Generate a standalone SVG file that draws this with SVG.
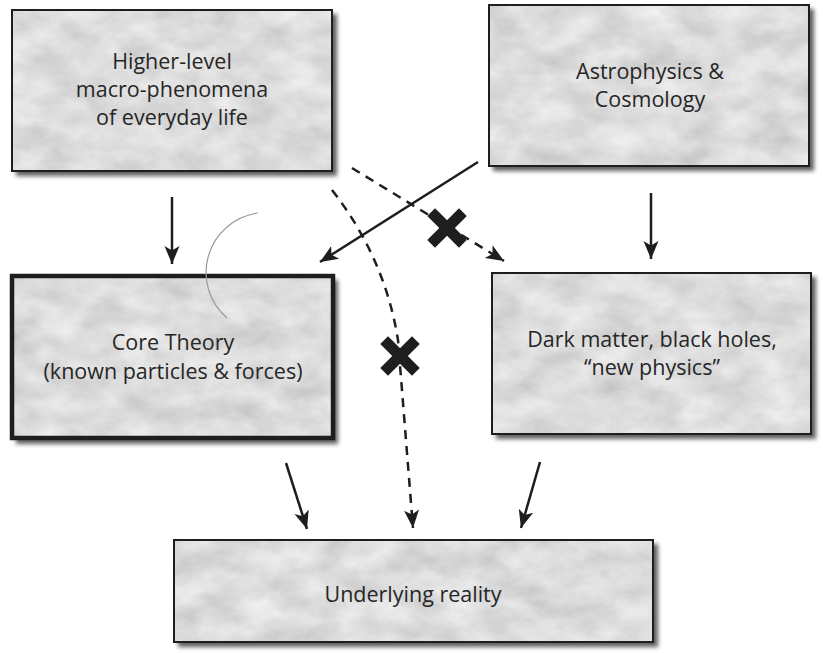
<svg xmlns="http://www.w3.org/2000/svg" width="823" height="653" viewBox="0 0 823 653">
<defs>
<style>
.lbl{font-family:"Open Sans","Noto Sans","Liberation Sans",sans-serif;font-size:21.5px;fill:#262626;text-anchor:middle}
.box{fill:#c4c4c4;stroke:#1e1e1e;stroke-width:2}
.shadow{fill:#2a2a2a;opacity:0.75}
.con{fill:none;stroke:#1e1e1e;stroke-width:2.5}
.dash{stroke-dasharray:9 7}
.xm{stroke:#1e1e1e;stroke-width:11;stroke-linecap:square}
</style>
<filter id="tex" x="0" y="0" width="1" height="1">
<feTurbulence type="fractalNoise" baseFrequency="0.025 0.04" numOctaves="4" seed="7" result="n"/>
<feColorMatrix in="n" type="matrix" values="0.4 0 0 0 0.52  0.4 0 0 0 0.52  0.4 0 0 0 0.52  0 0 0 0 1" result="g"/>
<feComposite in="g" in2="SourceGraphic" operator="in"/>
</filter>
<filter id="blur" x="-10%" y="-10%" width="120%" height="130%">
<feGaussianBlur stdDeviation="2.2"/>
</filter>
<marker id="ah" markerUnits="userSpaceOnUse" markerWidth="20" markerHeight="18" refX="18" refY="9" orient="auto">
<path d="M0,1.5 L18,9 L0,16.5 L4.5,9 z" fill="#1e1e1e"/>
</marker>
</defs>

<g id="node-higher">
<rect class="shadow" x="16" y="14" width="321" height="162" filter="url(#blur)"/>
<rect class="box" x="12" y="10" width="320" height="161" filter="url(#tex)"/>
<rect x="12" y="10" width="320" height="161" fill="none" stroke="#1e1e1e" stroke-width="2"/>
<text class="lbl" x="172" y="69">Higher-level</text>
<text class="lbl" x="172" y="97">macro-phenomena</text>
<text class="lbl" x="172" y="125">of everyday life</text>
</g>

<g id="node-astro">
<rect class="shadow" x="493" y="9" width="321" height="162" filter="url(#blur)"/>
<rect class="box" x="489" y="5" width="320" height="161" filter="url(#tex)"/>
<rect x="489" y="5" width="320" height="161" fill="none" stroke="#1e1e1e" stroke-width="2"/>
<text class="lbl" x="650" y="79">Astrophysics &amp;</text>
<text class="lbl" x="650" y="107">Cosmology</text>
</g>

<g id="node-core">
<rect class="shadow" x="16" y="280" width="322" height="164" filter="url(#blur)"/>
<rect class="box" x="12" y="276" width="321" height="162" filter="url(#tex)"/>
<rect x="12" y="276" width="321" height="162" fill="none" stroke="#1e1e1e" stroke-width="4.5"/>
<text class="lbl" x="173" y="350">Core Theory</text>
<text class="lbl" x="173" y="379">(known particles &amp; forces)</text>
</g>

<g id="node-dark">
<rect class="shadow" x="496" y="277" width="320" height="162" filter="url(#blur)"/>
<rect class="box" x="492" y="273" width="319" height="161" filter="url(#tex)"/>
<rect x="492" y="273" width="319" height="161" fill="none" stroke="#1e1e1e" stroke-width="2"/>
<text class="lbl" x="652" y="347">Dark matter, black holes,</text>
<text class="lbl" x="652" y="375">“new physics”</text>
</g>

<g id="node-reality">
<rect class="shadow" x="178" y="544" width="480" height="103" filter="url(#blur)"/>
<rect class="box" x="174" y="540" width="479" height="102" filter="url(#tex)"/>
<rect x="174" y="540" width="479" height="102" fill="none" stroke="#1e1e1e" stroke-width="2"/>
<text class="lbl" x="413" y="602">Underlying reality</text>
</g>

<g id="connectors">
<line class="con" x1="172" y1="197" x2="172" y2="264" marker-end="url(#ah)"/>
<line class="con" x1="651" y1="193" x2="651" y2="259" marker-end="url(#ah)"/>
<line class="con" x1="478" y1="162" x2="320" y2="262" marker-end="url(#ah)"/>
<line class="con dash" x1="352" y1="168" x2="504" y2="261" marker-end="url(#ah)"/>
<path class="con dash" d="M332,190 Q385,258 398,340 L413,528" marker-end="url(#ah)"/>
<line class="con" x1="286" y1="463" x2="307" y2="529" marker-end="url(#ah)"/>
<line class="con" x1="540" y1="462" x2="521" y2="528" marker-end="url(#ah)"/>
<path d="M258,213 A60,60 0 0 0 227,318" fill="none" stroke="#9a9a9a" stroke-width="1.2"/>
</g>

<g id="crosses">
<g transform="translate(447,228)">
<line class="xm" x1="-12" y1="-12" x2="12" y2="12"/>
<line class="xm" x1="12" y1="-12" x2="-12" y2="12"/>
</g>
<g transform="translate(400,356)">
<line class="xm" x1="-12" y1="-12" x2="12" y2="12"/>
<line class="xm" x1="12" y1="-12" x2="-12" y2="12"/>
</g>
</g>
</svg>
